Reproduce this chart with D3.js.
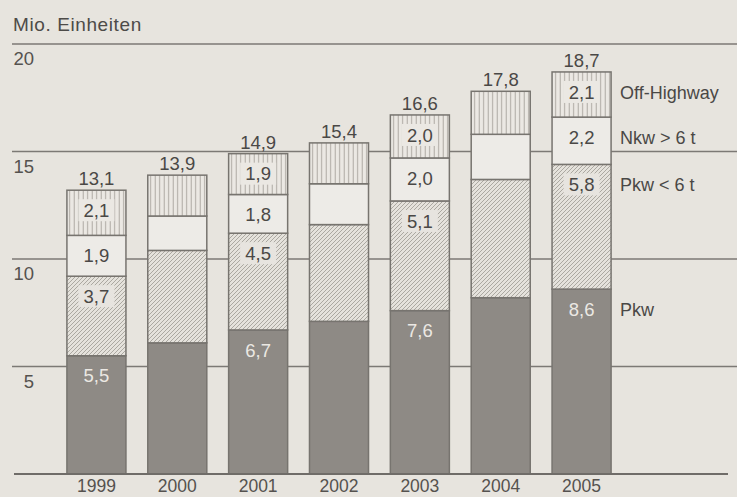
<!DOCTYPE html>
<html>
<head>
<meta charset="utf-8">
<script src="https://cdn.jsdelivr.net/npm/d3@7"></script>
<style>
  html, body { margin: 0; padding: 0; background: #e7e4de; }
  svg { display: block; }
  text { font-family: "Liberation Sans", Arial, sans-serif; }
</style>
</head>
<body>
<svg id="chart" width="737" height="497"></svg>
<script>
// Fahrzeugbestand in Mio. Einheiten, gestapelt nach Segment
const years = ["1999", "2000", "2001", "2002", "2003", "2004", "2005"];
const pkw = [5.5, 6.1, 6.7, 7.1, 7.6, 8.2, 8.6];
const pkwUnder6t = [3.7, 4.3, 4.5, 4.5, 5.1, 5.5, 5.8];
const nkwOver6t = [1.9, 1.6, 1.8, 1.9, 2.0, 2.1, 2.2];
const offHighway = [2.1, 1.9, 1.9, 1.9, 2.0, 2.0, 2.1];
const totals = [13.1, 13.9, 14.9, 15.4, 16.6, 17.8, 18.7];
// which segment values are printed inside the bars
const labelled = [true, false, true, false, true, false, true];
const seriesNames = ["Pkw", "Pkw < 6 t", "Nkw > 6 t", "Off-Highway"];
const yTicks = [5, 10, 15, 20];

const fmt = v => d3.format(".1f")(v).replace(".", ",");

const svg = d3.select("#chart");
const W = 737, H = 497;
const FS = 18.5;

const x = d3.scaleBand().domain(years).range([56, 622]).paddingInner(0.27).paddingOuter(0.135);
const y = d3.scaleLinear().domain([0, 20]).range([474, 44]);

// fill patterns
const defs = svg.append("defs");
const diag = defs.append("pattern").attr("id", "diag").attr("patternUnits", "userSpaceOnUse")
  .attr("width", 4).attr("height", 4);
diag.append("rect").attr("width", 4).attr("height", 4).attr("fill", "#e5e2dc");
diag.append("path").attr("d", "M-1,1 l2,-2 M0,4 l4,-4 M3,5 l2,-2")
  .attr("stroke", "#a5a19b").attr("stroke-width", 0.9);

const vert = defs.append("pattern").attr("id", "vert").attr("patternUnits", "userSpaceOnUse")
  .attr("width", 4.5).attr("height", 10);
vert.append("rect").attr("width", 4.5).attr("height", 10).attr("fill", "#ebe8e3");
vert.append("path").attr("d", "M2.2,0 V10").attr("stroke", "#aca8a2").attr("stroke-width", 1);

const styles = [
  { fill: "#8e8a85", bg: null, text: "#ebe8e3" },
  { fill: "url(#diag)", bg: "#e7e4df", text: "#4a4846" },
  { fill: "#edebe7", bg: null, text: "#4a4846" },
  { fill: "url(#vert)", bg: "#ebe8e3", text: "#4a4846" }
];

// title
svg.append("text").attr("x", 13).attr("y", 31).attr("font-size", 19).attr("fill", "#4d4b48")
  .attr("letter-spacing", 0.6).text("Mio. Einheiten");

// grid lines with their labels below
const gridColor = "#7c7975";
yTicks.forEach(t => {
  svg.append("line").attr("x1", 12).attr("x2", W).attr("y1", y(t)).attr("y2", y(t))
    .attr("stroke", gridColor).attr("stroke-width", 1.5);
  svg.append("text").attr("x", 34).attr("y", y(t) + 21).attr("text-anchor", "end")
    .attr("font-size", FS).attr("fill", "#55524f").text(t);
});

// stacked bars
const stackData = years.map((yr, i) => ({ year: yr, 0: pkw[i], 1: pkwUnder6t[i], 2: nkwOver6t[i], 3: offHighway[i] }));
const stack = d3.stack().keys([0, 1, 2, 3])(stackData);

stack.forEach((layer, k) => {
  svg.append("g").selectAll("rect").data(layer).join("rect")
    .attr("x", d => x(d.data.year))
    .attr("y", d => y(d[1]))
    .attr("width", x.bandwidth())
    .attr("height", d => y(d[0]) - y(d[1]))
    .attr("fill", styles[k].fill)
    .attr("stroke", "#77746f")
    .attr("stroke-width", 1.5);
});

// segment value labels
stack.forEach((layer, k) => {
  layer.forEach((d, i) => {
    if (!labelled[i]) return;
    const cx = x(d.data.year) + x.bandwidth() / 2;
    const cy = y(d[1]) + 20;
    const txt = fmt(d.data[k]);
    if (styles[k].bg) {
      svg.append("rect").attr("x", cx - 18).attr("y", cy - 11).attr("width", 36).attr("height", 22)
        .attr("fill", styles[k].bg);
    }
    svg.append("text").attr("x", cx).attr("y", cy + 6.7).attr("text-anchor", "middle")
      .attr("font-size", FS).attr("fill", styles[k].text).text(txt);
  });
});

// totals above bars
const topLayer = stack[3];
topLayer.forEach((d, i) => {
  svg.append("text").attr("x", x(d.data.year) + x.bandwidth() / 2).attr("y", y(d[1]) - 5)
    .attr("text-anchor", "middle").attr("font-size", FS).attr("fill", "#4a4846").text(fmt(totals[i]));
});

// series names beside the last bar
const last = years.length - 1;
stack.forEach((layer, k) => {
  const d = layer[last];
  svg.append("text").attr("x", 620).attr("y", y(d[1]) + 27).attr("font-size", 18)
    .attr("fill", "#4a4846").text(seriesNames[k]);
});

// baseline
svg.append("line").attr("x1", 14).attr("x2", 728).attr("y1", y(0)).attr("y2", y(0))
  .attr("stroke", "#6f6c68").attr("stroke-width", 2);

// year labels
const xAxis = d3.axisBottom(x).tickSize(0).tickPadding(6);
const gx = svg.append("g").attr("transform", `translate(0,${y(0)})`).call(xAxis);
gx.select(".domain").remove();
gx.selectAll("text").attr("font-size", 17.5).attr("fill", "#55524f")
  .style("font-family", "Liberation Sans, Arial, sans-serif");
</script>
</body>
</html>
